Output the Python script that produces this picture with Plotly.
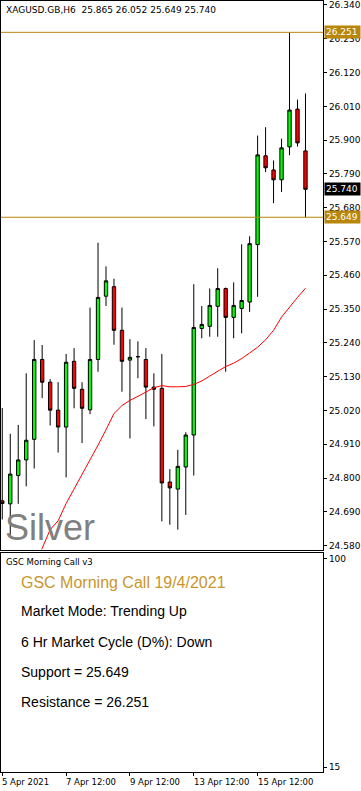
import plotly.graph_objects as go

# ---------------- data ----------------
candle_idx = list(range(39))
opens = [24.726, 24.716, 24.808, 24.859, 24.926, 25.186, 25.112, 25.021, 24.966, 25.180,
         25.089, 25.022, 25.186, 25.392, 25.423, 25.281, 25.184, 25.195, 25.186, 25.096,
         25.092, 24.787, 24.764, 24.836, 24.940, 25.287, 25.294, 25.359, 25.417, 25.323,
         25.352, 25.373, 25.560, 25.849, 25.803, 25.771, 25.878, 26.001, 25.865]
highs = [25.028, 24.944, 24.973, 25.141, 25.249, 25.233, 25.122, 25.112, 25.204, 25.223,
         25.112, 25.355, 25.566, 25.489, 25.449, 25.355, 25.252, 25.245, 25.223, 25.141,
         25.204, 24.829, 24.892, 24.949, 25.431, 25.360, 25.417, 25.483, 25.420, 25.437,
         25.561, 25.587, 25.915, 25.942, 25.834, 25.905, 26.251, 26.032, 26.052]
lows = [24.665, 24.610, 24.716, 24.773, 24.831, 25.060, 24.971, 24.883, 24.802, 25.027,
        24.914, 25.008, 25.146, 25.360, 25.234, 25.081, 24.929, 25.125, 24.992, 24.968,
        24.659, 24.648, 24.632, 24.680, 24.808, 25.255, 25.260, 25.260, 25.146, 25.255,
        25.271, 25.341, 25.390, 25.796, 25.695, 25.731, 25.851, 25.879, 25.649]
closes = [24.717, 24.813, 24.859, 24.923, 25.186, 25.112, 25.021, 24.966, 25.177, 25.092,
          25.027, 25.186, 25.388, 25.442, 25.281, 25.180, 25.193, 25.195, 25.096, 25.089,
          24.784, 24.768, 24.838, 24.940, 25.290, 25.300, 25.362, 25.417, 25.323, 25.362,
          25.378, 25.563, 25.852, 25.810, 25.771, 25.875, 25.998, 25.891, 25.740]
ma_values = [None, None, None, None, 24.519, 24.571, 24.632, 24.661, 24.717, 24.764,
             24.810, 24.858, 24.907, 24.957, 25.010, 25.036, 25.053, 25.066, 25.079, 25.094,
             25.101, 25.097, 25.097, 25.098, 25.105, 25.116, 25.132, 25.148, 25.163, 25.174,
             25.189, 25.207, 25.226, 25.250, 25.281, 25.324, 25.357, 25.388, 25.418]

resistance = 26.251
support = 25.649

price_tick_vals = [24.58, 24.69, 24.80, 24.91, 25.02, 25.13, 25.24, 25.35, 25.46,
                   25.57, 25.68, 25.79, 25.90, 26.01, 26.12, 26.23, 26.34]
price_tick_text = ["24.580", "24.690", "24.800", "24.910", "25.020", "25.130", "25.240",
                   "25.350", "25.460", "25.570", "25.680", "25.790", "25.900", "26.010",
                   "26.120", "26.230", "26.340"]

time_tick_idx = [0, 8, 16, 24, 32]
time_tick_text = ["5 Apr 2021", "7 Apr 12:00", "9 Apr 12:00", "13 Apr 12:00", "15 Apr 12:00"]

ind_tick_vals = [15, 100]
ind_tick_text = ["15", "100"]

header_text = "XAGUSD.GB,H6  25.865 26.052 25.649 25.740"
panel_lines = ["Market Mode: Trending Up",
               "6 Hr Market Cycle (D%): Down",
               "Support = 25.649",
               "Resistance = 26.251"]
panel_title = "GSC Morning Call 19/4/2021"

# ---------------- layout geometry ----------------
W, H = 361, 791
XR = 323 / W
GOLD = "#B8860B"
TICKFONT = dict(family="DejaVu Sans", size=9, color="black")

def py(px):
    return 1 - px / H

fig = go.Figure()

fig.add_trace(go.Scatter(x=candle_idx, y=ma_values, mode="lines",
                         line=dict(color="#FF0000", width=1), hoverinfo="skip",
                         xaxis="x", yaxis="y", showlegend=False))

fig.add_trace(go.Candlestick(
    x=candle_idx, open=opens, high=highs, low=lows, close=closes,
    increasing=dict(line=dict(color="black", width=1), fillcolor="#00FF00"),
    decreasing=dict(line=dict(color="black", width=1), fillcolor="#FF0000"),
    whiskerwidth=0, xaxis="x", yaxis="y", showlegend=False))

# dummy trace for indicator panel
fig.add_trace(go.Scatter(x=[None], y=[None], xaxis="x2", yaxis="y2", showlegend=False))

shapes = []
for lvl in (resistance, support):
    shapes.append(dict(type="line", xref="paper", yref="y", x0=0, x1=XR, y0=lvl, y1=lvl,
                       line=dict(color=GOLD, width=1)))

annotations = []
annotations.append(dict(text=header_text, xref="paper", yref="paper", x=3 / W, y=py(9),
                        xanchor="left", yanchor="middle", showarrow=False,
                        font=dict(family="DejaVu Sans", size=9, color="black")))
annotations.append(dict(text="Silver", xref="paper", yref="paper", x=2 / W, y=py(550),
                        xanchor="left", yanchor="bottom", showarrow=False,
                        font=dict(family="Liberation Sans", size=36, color="#808080")))

for val, bg in ((resistance, GOLD), (support, GOLD), (closes[-1], "black")):
    annotations.append(dict(text=f"{val:.3f}", xref="paper", yref="y", x=XR + 1 / W, y=val,
                            xanchor="left", yanchor="middle", showarrow=False,
                            bgcolor=bg, borderpad=1, width=33, align="left",
                            font=dict(family="DejaVu Sans", size=9, color="white")))

annotations.append(dict(text="GSC Morning Call v3", xref="paper", yref="paper", x=3 / W,
                        y=py(562), xanchor="left", yanchor="middle", showarrow=False,
                        font=dict(family="DejaVu Sans", size=8.5, color="black")))
annotations.append(dict(text=panel_title, xref="paper", yref="paper", x=18 / W, y=py(583),
                        xanchor="left", yanchor="middle", showarrow=False,
                        font=dict(family="Liberation Sans", size=16, color="#C8962D")))
for i, line in enumerate(panel_lines):
    annotations.append(dict(text=line, xref="paper", yref="paper", x=18 / W,
                            y=py(612 + 30.2 * i), xanchor="left", yanchor="middle",
                            showarrow=False,
                            font=dict(family="Liberation Sans", size=14, color="black")))

for k, lab in zip(time_tick_idx, time_tick_text):
    annotations.append(dict(text=lab, x=k, xref="x2", yref="paper", y=py(783),
                            xanchor="left", yanchor="middle", showarrow=False, xshift=-2,
                            font=dict(family="DejaVu Sans", size=8.5, color="black")))

x_range = [-0.16, 40.21]

fig.update_layout(
    width=W, height=H, autosize=False,
    margin=dict(l=0, r=0, t=0, b=0),
    paper_bgcolor="white", plot_bgcolor="white",
    boxgap=0.4,
    shapes=shapes, annotations=annotations,
    xaxis=dict(domain=[0, XR], range=x_range, anchor="y", showgrid=False, zeroline=False,
               showticklabels=False, ticks="", showline=True, mirror=True,
               linecolor="black", linewidth=1, rangeslider=dict(visible=False)),
    yaxis=dict(domain=[py(550), 1], range=[24.567, 26.353], side="right", anchor="x",
               showgrid=False, zeroline=False, tickvals=price_tick_vals,
               ticktext=price_tick_text, ticks="outside", ticklen=3, tickcolor="black",
               tickfont=TICKFONT, showline=True, mirror=True, linecolor="black",
               linewidth=1),
    xaxis2=dict(domain=[0, XR], range=x_range, anchor="y2", matches="x", showgrid=False,
                zeroline=False, tickvals=time_tick_idx, ticktext=time_tick_text,
                showticklabels=False, ticks="outside", ticklen=3, tickcolor="black",
                showline=True, mirror=True, linecolor="black", linewidth=1),
    yaxis2=dict(domain=[py(773), py(553)], range=[12.97, 102.44], side="right",
                anchor="x2", showgrid=False, zeroline=False, tickvals=ind_tick_vals,
                ticktext=ind_tick_text, ticks="outside", ticklen=3, tickcolor="black",
                tickfont=TICKFONT, showline=True, mirror=True, linecolor="black",
                linewidth=1),
)

fig.write_html("out.html", config={"displayModeBar": False},
               post_script="document.body.style.margin='0';document.body.style.overflow='hidden';")
